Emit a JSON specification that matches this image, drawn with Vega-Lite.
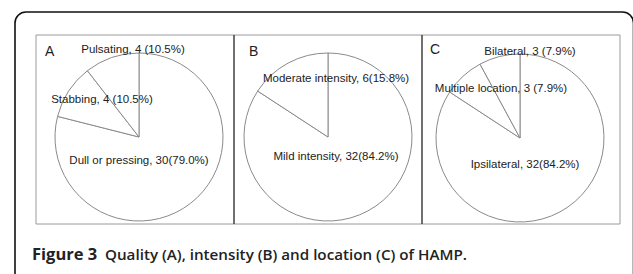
{
  "$schema": "https://vega.github.io/schema/vega-lite/v6.json",
  "width": 633,
  "height": 274,
  "padding": 0,
  "autosize": {"type": "none"},
  "background": "white",
  "config": {"view": {"stroke": null}},
  "datasets": {
    "slices": [
      {"panel": "A", "cx": 139, "cy": 137, "label": "Dull or pressing", "value": 30, "ord": 1},
      {"panel": "A", "cx": 139, "cy": 137, "label": "Stabbing", "value": 4, "ord": 2},
      {"panel": "A", "cx": 139, "cy": 137, "label": "Pulsating", "value": 4, "ord": 3},
      {"panel": "B", "cx": 328, "cy": 137, "label": "Mild intensity", "value": 32, "ord": 1},
      {"panel": "B", "cx": 328, "cy": 137, "label": "Moderate intensity", "value": 6, "ord": 2},
      {"panel": "C", "cx": 520, "cy": 138, "label": "Ipsilateral", "value": 32, "ord": 1},
      {"panel": "C", "cx": 520, "cy": 138, "label": "Multiple location", "value": 3, "ord": 2},
      {"panel": "C", "cx": 520, "cy": 138, "label": "Bilateral", "value": 3, "ord": 3}
    ],
    "labels": [
      {"text": "Pulsating, 4 (10.5%)", "x": 133, "y": 50},
      {"text": "Stabbing, 4 (10.5%)", "x": 102, "y": 100},
      {"text": "Dull or pressing, 30(79.0%)", "x": 139, "y": 161},
      {"text": "Moderate intensity, 6(15.8%)", "x": 336, "y": 79},
      {"text": "Mild intensity, 32(84.2%)", "x": 336, "y": 157},
      {"text": "Bilateral, 3 (7.9%)", "x": 530, "y": 52},
      {"text": "Multiple location, 3 (7.9%)", "x": 501, "y": 89},
      {"text": "Ipsilateral, 32(84.2%)", "x": 525, "y": 165}
    ],
    "letters": [
      {"text": "A", "x": 45, "y": 52},
      {"text": "B", "x": 249, "y": 52},
      {"text": "C", "x": 430, "y": 50}
    ],
    "frame": [{"x": 15, "x2": 633.5, "y": 12, "y2": 300}],
    "panels": [{"x": 36, "x2": 620, "y": 35, "y2": 224}],
    "dividers": [{"x": 234, "y": 35, "y2": 224}, {"x": 422, "y": 35, "y2": 224}],
    "captionBold": [{"text": "Figure 3", "x": 32, "y": 255}],
    "captionRest": [{"text": "Quality (A), intensity (B) and location (C) of HAMP.", "x": 105, "y": 255}]
  },
  "layer": [
    {
      "data": {"name": "frame"},
      "mark": {"type": "rect", "fill": null, "stroke": "#111", "strokeWidth": 1.6, "cornerRadius": 11},
      "encoding": {
        "x": {"field": "x", "type": "quantitative", "scale": {"domain": [0, 633], "range": [0, 633], "nice": false, "zero": false}, "axis": null},
        "x2": {"field": "x2"},
        "y": {"field": "y", "type": "quantitative", "scale": {"domain": [0, 274], "range": [0, 274], "nice": false, "zero": false}, "axis": null},
        "y2": {"field": "y2"}
      }
    },
    {
      "data": {"name": "panels"},
      "mark": {"type": "rect", "fill": "white", "stroke": "#9a9a9a", "strokeWidth": 1},
      "encoding": {
        "x": {"field": "x", "type": "quantitative"},
        "x2": {"field": "x2"},
        "y": {"field": "y", "type": "quantitative"},
        "y2": {"field": "y2"}
      }
    },
    {
      "data": {"name": "dividers"},
      "mark": {"type": "rule", "stroke": "#404040", "strokeWidth": 1.5},
      "encoding": {
        "x": {"field": "x", "type": "quantitative"},
        "y": {"field": "y", "type": "quantitative"},
        "y2": {"field": "y2"}
      }
    },
    {
      "data": {"name": "slices"},
      "transform": [{"filter": "datum.panel == 'A'"}],
      "mark": {"type": "arc", "outerRadius": 84, "fill": "white", "stroke": "#8a8a8a", "strokeWidth": 1},
      "encoding": {
        "theta": {"field": "value", "type": "quantitative", "stack": true},
        "order": {"field": "ord", "type": "quantitative"},
        "x": {"field": "cx", "type": "quantitative"},
        "y": {"field": "cy", "type": "quantitative"}
      }
    },
    {
      "data": {"name": "slices"},
      "transform": [{"filter": "datum.panel == 'B'"}],
      "mark": {"type": "arc", "outerRadius": 84, "fill": "white", "stroke": "#8a8a8a", "strokeWidth": 1},
      "encoding": {
        "theta": {"field": "value", "type": "quantitative", "stack": true},
        "order": {"field": "ord", "type": "quantitative"},
        "x": {"field": "cx", "type": "quantitative"},
        "y": {"field": "cy", "type": "quantitative"}
      }
    },
    {
      "data": {"name": "slices"},
      "transform": [{"filter": "datum.panel == 'C'"}],
      "mark": {"type": "arc", "outerRadius": 84, "fill": "white", "stroke": "#8a8a8a", "strokeWidth": 1},
      "encoding": {
        "theta": {"field": "value", "type": "quantitative", "stack": true},
        "order": {"field": "ord", "type": "quantitative"},
        "x": {"field": "cx", "type": "quantitative"},
        "y": {"field": "cy", "type": "quantitative"}
      }
    },
    {
      "data": {"name": "labels"},
      "mark": {"type": "text", "font": "Liberation Sans", "fontSize": 11.5, "fill": "#222", "align": "center", "baseline": "middle"},
      "encoding": {
        "x": {"field": "x", "type": "quantitative"},
        "y": {"field": "y", "type": "quantitative"},
        "text": {"field": "text"}
      }
    },
    {
      "data": {"name": "letters"},
      "mark": {"type": "text", "font": "Liberation Sans", "fontSize": 14, "fill": "#222", "align": "left", "baseline": "middle"},
      "encoding": {
        "x": {"field": "x", "type": "quantitative"},
        "y": {"field": "y", "type": "quantitative"},
        "text": {"field": "text"}
      }
    },
    {
      "data": {"name": "captionBold"},
      "mark": {"type": "text", "font": "Open Sans", "fontSize": 16.5, "fontWeight": 700, "fill": "#222", "align": "left", "baseline": "middle"},
      "encoding": {
        "x": {"field": "x", "type": "quantitative"},
        "y": {"field": "y", "type": "quantitative"},
        "text": {"field": "text"}
      }
    },
    {
      "data": {"name": "captionRest"},
      "mark": {"type": "text", "font": "Open Sans", "fontSize": 15.2, "fontWeight": 600, "fill": "#222", "align": "left", "baseline": "middle"},
      "encoding": {
        "x": {"field": "x", "type": "quantitative"},
        "y": {"field": "y", "type": "quantitative"},
        "text": {"field": "text"}
      }
    }
  ],
  "resolve": {"scale": {"theta": "independent"}}
}
